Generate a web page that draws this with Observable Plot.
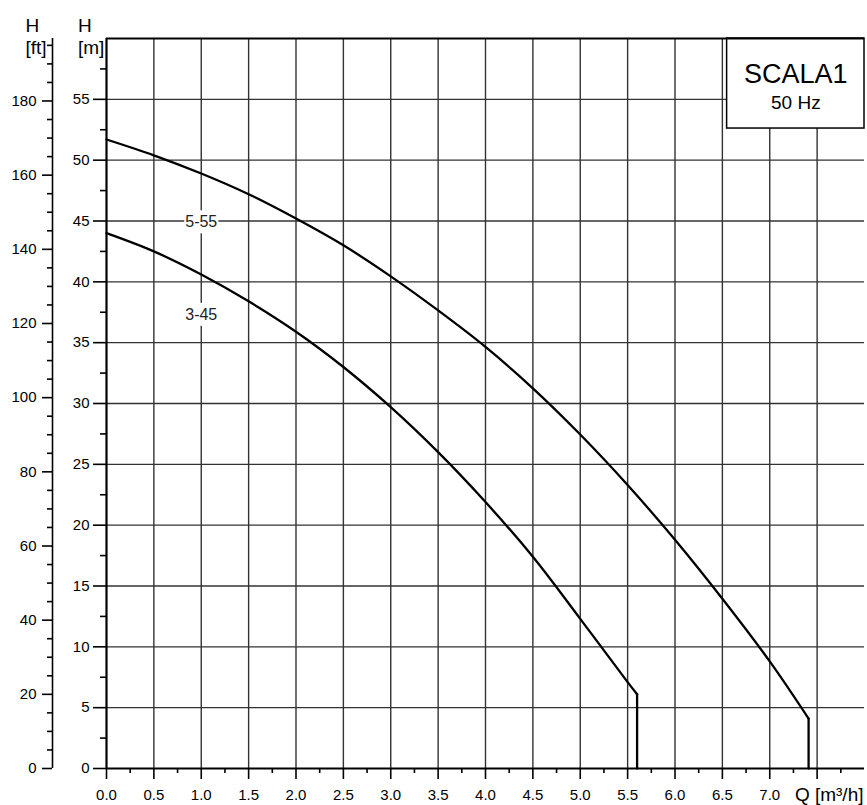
<!DOCTYPE html>
<html>
<head>
<meta charset="utf-8">
<script src="https://cdn.jsdelivr.net/npm/d3@7"></script>
<script src="https://cdn.jsdelivr.net/npm/@observablehq/plot@0.6"></script>
<style>
  body { margin: 0; background: #fff; }
</style>
</head>
<body>
<div id="chart"></div>
<script>
// ---- data ----
const q_5_55 = [0, 0.5, 1.0, 1.5, 2.0, 2.5, 3.0, 3.5, 4.0, 4.5, 5.0, 5.5, 6.0, 6.5, 7.0, 7.41, 7.41];
const h_5_55 = [51.7, 50.4, 48.9, 47.2, 45.2, 43.0, 40.45, 37.65, 34.65, 31.25, 27.45, 23.3, 18.8, 13.95, 8.8, 4.1, 0];
const q_3_45 = [0, 0.5, 1.0, 1.5, 2.0, 2.5, 3.0, 3.5, 4.0, 4.5, 5.0, 5.5, 5.6, 5.6];
const h_3_45 = [44.0, 42.5, 40.6, 38.4, 35.9, 33.0, 29.7, 26.0, 21.9, 17.4, 12.3, 7.1, 6.1, 0];

const curveNames = ["5-55", "3-45"];
const curveLabelQ = [1.0, 1.0];
const curveLabelH = [44.9, 37.3];

const xMajorTicks = [0, 0.5, 1, 1.5, 2, 2.5, 3, 3.5, 4, 4.5, 5, 5.5, 6, 6.5, 7, 7.5];
const xTickLabels = ["0.0", "0.5", "1.0", "1.5", "2.0", "2.5", "3.0", "3.5", "4.0", "4.5", "5.0", "5.5", "6.0", "6.5", "7.0", ""];
const xMinorTicks = [0.25, 0.75, 1.25, 1.75, 2.25, 2.75, 3.25, 3.75, 4.25, 4.75, 5.25, 5.75, 6.25, 6.75, 7.25, 7.75];
const yMajorTicks = [0, 5, 10, 15, 20, 25, 30, 35, 40, 45, 50, 55];
const yMinorTicks = [2.5, 7.5, 12.5, 17.5, 22.5, 27.5, 32.5, 37.5, 42.5, 47.5, 52.5, 57.5];
const ftMajorTicks = [0, 20, 40, 60, 80, 100, 120, 140, 160, 180];
const ftMinorTicks = [5, 10, 15, 25, 30, 35, 45, 50, 55, 65, 70, 75, 85, 90, 95, 105, 110, 115, 125, 130, 135, 145, 150, 155, 165, 170, 175, 185, 190, 195];
const gridQ = [0.5, 1, 1.5, 2, 2.5, 3, 3.5, 4, 4.5, 5, 5.5, 6, 6.5, 7, 7.5];
const gridH = [5, 10, 15, 20, 25, 30, 35, 40, 45, 50, 55];

const xTitle = "Q [m³/h]";
const ftTitle = "H\n[ft]";
const mTitle = "H\n[m]";
const boxTitle = "SCALA1";
const boxSubtitle = "50 Hz";
const FT_PER_M = 3.28084;

// ---- build tables ----
const pts55 = q_5_55.map((q, i) => ({q, h: h_5_55[i]}));
const pts45 = q_3_45.map((q, i) => ({q, h: h_3_45[i]}));
const labelRows = curveNames.map((name, i) => ({name, q: curveLabelQ[i], h: curveLabelH[i]}));

const gridStroke = "#333";
const FONT = '"Liberation Sans", Arial, Helvetica, sans-serif';

const chart = Plot.plot({
  width: 867,
  height: 805,
  marginLeft: 106,
  marginRight: 3,
  marginTop: 38,
  marginBottom: 37,
  style: {fontFamily: FONT, fontSize: "15px", background: "white", color: "black"},
  x: {domain: [0, 8], label: null},
  y: {domain: [0, 60], label: null},
  marks: [
    // grid
    Plot.ruleX(gridQ, {y1: 0, y2: 60, stroke: gridStroke, strokeWidth: 1.4}),
    Plot.ruleY(gridH, {x1: 0, x2: 8, stroke: gridStroke, strokeWidth: 1.4}),
    // curves: smooth part, then vertical drop at the end of the curve
    Plot.line(pts55.slice(0, -1), {x: "q", y: "h", curve: "catmull-rom", stroke: "black", strokeWidth: 2.3}),
    Plot.line(pts55.slice(-2), {x: "q", y: "h", stroke: "black", strokeWidth: 2.3}),
    Plot.line(pts45.slice(0, -1), {x: "q", y: "h", curve: "catmull-rom", stroke: "black", strokeWidth: 2.3}),
    Plot.line(pts45.slice(-2), {x: "q", y: "h", stroke: "black", strokeWidth: 2.3}),
    // model box
    Plot.rect([0], {x1: 6.55, x2: 8, y1: 52.6, y2: 60, fill: "white", stroke: "black", strokeWidth: 1.5}),
    Plot.text([boxTitle], {x: 7.275, y: 56.35, text: d => d, lineAnchor: "bottom", fontSize: 27}),
    Plot.text([boxSubtitle], {x: 7.275, y: 54.2, text: d => d, lineAnchor: "bottom", fontSize: 19}),
    // curve labels
    Plot.text(labelRows, {x: "q", y: "h", text: "name", fontSize: 16, fill: "#222"}),
    // frame
    Plot.ruleX([0], {stroke: "black", strokeWidth: 2.2}),
    Plot.ruleY([0, 60], {stroke: "black", strokeWidth: 2.2}),
    Plot.ruleX([0], {dx: -54, stroke: "black", strokeWidth: 1.6}),
    // axes
    Plot.axisX({ticks: xMajorTicks, tickSize: 11, tickPadding: 10, strokeWidth: 1.6, fontSize: 15, label: null,
      tickFormat: d => xTickLabels[xMajorTicks.indexOf(d)] ?? ""}),
    Plot.axisX({ticks: xMinorTicks, tickSize: 5, strokeWidth: 1.6, label: null, tickFormat: () => ""}),
    Plot.axisY({ticks: yMajorTicks, tickSize: 13, tickPadding: 4, strokeWidth: 1.6, fontSize: 15, label: null}),
    Plot.axisY({ticks: yMinorTicks, tickSize: 6, strokeWidth: 1.6, label: null, tickFormat: () => ""}),
    Plot.axisY({ticks: ftMajorTicks.map(f => f / FT_PER_M), tickSize: 10, tickPadding: 6, dx: -54, strokeWidth: 1.6, fontSize: 15, label: null,
      tickFormat: d => String(Math.round(d * FT_PER_M))}),
    Plot.axisY({ticks: ftMinorTicks.map(f => f / FT_PER_M), tickSize: 5, dx: -54, strokeWidth: 1.6, label: null, tickFormat: () => ""}),
    // axis titles
    Plot.text([ftTitle], {frameAnchor: "top-left", text: d => d, dx: -81, dy: 15, lineAnchor: "bottom", lineHeight: 1.12, fontSize: 19}),
    Plot.text([mTitle], {frameAnchor: "top-left", text: d => d, dx: -28.5, dy: 15, lineAnchor: "bottom", lineHeight: 1.12, fontSize: 19}),
    Plot.text([xTitle], {frameAnchor: "bottom-right", text: d => d, textAnchor: "end", dx: -1, dy: 32, lineAnchor: "bottom", fontSize: 19})
  ]
});

document.getElementById("chart").append(chart);

// white backgrounds behind curve labels (interrupt the grid like the original)
const svgNS = "http://www.w3.org/2000/svg";
chart.querySelectorAll("text").forEach(t => {
  if (!curveNames.includes(t.textContent)) return;
  const b = t.getBBox();
  const r = document.createElementNS(svgNS, "rect");
  r.setAttribute("x", b.x - 1);
  r.setAttribute("y", b.y - 3);
  r.setAttribute("width", b.width + 2);
  r.setAttribute("height", b.height + 6);
  r.setAttribute("fill", "white");
  const tr = t.getAttribute("transform");
  if (tr) r.setAttribute("transform", tr);
  t.parentNode.insertBefore(r, t);
});
</script>
</body>
</html>
